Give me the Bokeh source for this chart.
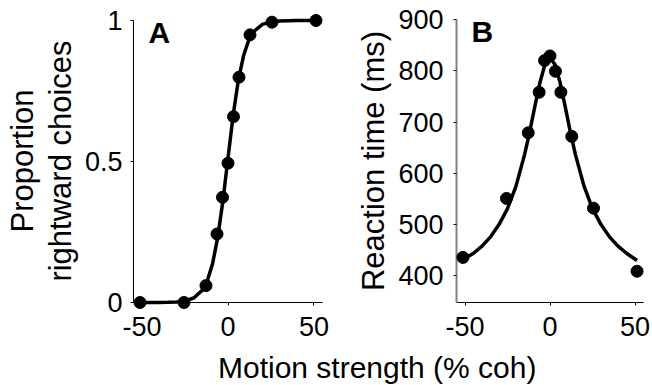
from bokeh.plotting import figure
from bokeh.models import Range1d, LinearAxis, FixedTicker, Label
from bokeh.layouts import row, column
from bokeh.embed import file_html
from bokeh.resources import INLINE

FONT = "Liberation Sans"

# ---- data ----
coh = [-51.2, -25.6, -12.8, -6.4, -3.2, 0, 3.2, 6.4, 12.8, 25.6, 51.2]
p_right = [0.0, 0.0, 0.06, 0.243, 0.373, 0.494, 0.659, 0.799, 0.949, 0.994, 1.0]
rt_ms = [436, 551, 679, 758, 820, 829, 799, 758, 672, 532, 409]

fit_coh = [-51.2, -45, -40, -35, -30, -25, -20, -15, -12, -9, -6, -3, 0,
           3, 6, 9, 12, 15, 20, 25, 30, 35, 40, 45, 51.2]
fit_p_right = [0.0, 0.0001, 0.0002, 0.0007, 0.002, 0.0055, 0.016, 0.043, 0.078,
               0.137, 0.23, 0.359, 0.512, 0.664, 0.788, 0.874, 0.929, 0.961,
               0.986, 0.995, 0.998, 0.999, 1.0, 1.0, 1.0]
fit_rt_ms = [432, 444, 458, 476, 500, 531, 575, 636, 680, 729, 776, 812, 825,
             812, 776, 729, 680, 636, 575, 531, 500, 476, 458, 444, 430]

x_ticks = [-50, 0, 50]
x_tick_labels = {-50: "-50", 0: "0", 50: "50"}
a_y_ticks = [0, 0.5, 1]
a_y_labels = {0: "0", 0.5: "0.5", 1: "1"}
b_y_ticks = [400, 500, 600, 700, 800, 900]

x_label = "Motion strength (% coh)"
a_y_label_1 = "Proportion"
a_y_label_2 = "rightward choices"
b_y_label = "Reaction time (ms)"

TICK_FS = "27px"
LAB_FS = "31px"
ROW_H = 347


def style_axis(ax):
    ax.major_label_text_font = FONT
    ax.major_label_text_font_size = TICK_FS
    ax.major_label_text_color = "black"
    ax.axis_label_text_font = FONT
    ax.axis_label_text_font_size = LAB_FS
    ax.axis_label_text_font_style = "normal"
    ax.axis_label_text_color = "black"
    ax.minor_tick_line_color = None
    ax.major_tick_in = 0
    ax.major_tick_out = 3
    ax.major_tick_line_color = "black"
    ax.axis_line_color = "black"


def make_panel(width, left, right, x_rng, y_rng):
    p = figure(width=width, height=ROW_H, x_range=x_rng, y_range=y_rng,
               output_backend="svg", toolbar_location=None,
               min_border_left=left, min_border_right=right,
               min_border_top=19, min_border_bottom=ROW_H - 302)
    p.grid.visible = False
    p.outline_line_color = None
    p.background_fill_color = "white"
    p.border_fill_color = "white"
    for ax in p.xaxis + p.yaxis:
        style_axis(ax)
    p.xaxis.ticker = FixedTicker(ticks=x_ticks)
    p.xaxis.major_label_overrides = x_tick_labels
    p.xaxis.major_label_standoff = 11
    return p


# ---- panel A ----
pa = make_panel(330, 133, 8, Range1d(-55, 55), Range1d(0, 1.0035))
pa.yaxis.ticker = FixedTicker(ticks=a_y_ticks)
pa.yaxis.major_label_overrides = a_y_labels
pa.yaxis.bounds = (0, 1)
pa.yaxis.major_label_standoff = 8
pa.yaxis.axis_label = a_y_label_2
pa.yaxis.axis_label_standoff = 4

extra = LinearAxis(ticker=FixedTicker(ticks=[]), axis_label=a_y_label_1)
style_axis(extra)
extra.axis_line_color = None
extra.major_tick_line_color = None
extra.major_tick_out = 0
extra.major_label_standoff = 0
extra.axis_label_standoff = 0
pa.add_layout(extra, "left")

pa.line(fit_coh, fit_p_right, line_color="black", line_width=3.5, level="overlay")
pa.scatter(coh, p_right, size=12, fill_color="black", line_color="black",
           level="overlay")

pa.add_layout(Label(x=-46.3, y=0.959, text="A", text_font=FONT,
                    text_font_size="30px", text_font_style="bold",
                    text_color="black", text_baseline="alphabetic"))

# ---- panel B ----
pb = make_panel(322, 126, 9, Range1d(-55, 55), Range1d(348, 900))
pb.yaxis.ticker = FixedTicker(ticks=b_y_ticks)
pb.yaxis.axis_line_color = "#808080"
pb.yaxis.axis_line_width = 2
pb.yaxis.major_label_standoff = 10
pb.yaxis.axis_label = b_y_label
pb.yaxis.axis_label_standoff = 4

pb.line(fit_coh, fit_rt_ms, line_color="black", line_width=3.5, level="overlay")
pb.scatter(coh, rt_ms, size=12, fill_color="black", line_color="black",
           level="overlay")

pb.add_layout(Label(x=-46.2, y=877, text="B", text_font=FONT,
                    text_font_size="30px", text_font_style="bold",
                    text_color="black", text_baseline="alphabetic"))

# ---- shared x label strip ----
strip_h = 385 - ROW_H
pc = figure(width=652, height=strip_h, x_range=Range1d(0, 652),
            y_range=Range1d(0, strip_h),
            output_backend="svg", toolbar_location=None,
            x_axis_type=None, y_axis_type=None, min_border=0)
pc.outline_line_color = None
pc.background_fill_color = "white"
pc.border_fill_color = "white"
pc.add_layout(Label(x=376.7, y=18, text=x_label, text_font=FONT,
                    text_font_size="30px", text_color="black",
                    text_align="center", text_baseline="alphabetic"))

layout = column(row(pa, pb), pc)

with open("out.html", "w") as f:
    f.write(file_html(layout, INLINE))
